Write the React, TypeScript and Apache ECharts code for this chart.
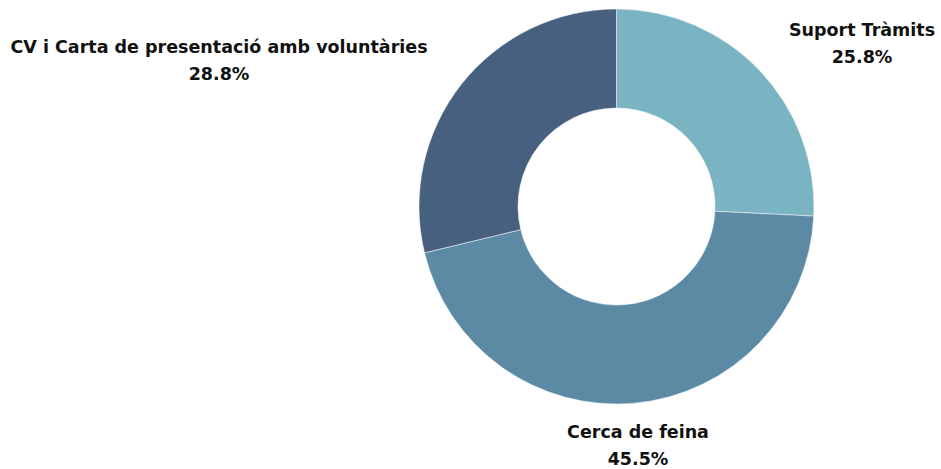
import React, { useEffect, useRef } from "react";
import * as echarts from "echarts";

const categories = ["Suport Tràmits", "Cerca de feina", "CV i Carta de presentació amb voluntàries"];
const values = [25.8, 45.5, 28.8];
const colors = ["#7ab3c2", "#5c8aa5", "#47607f"];

export default function App() {
  const ref = useRef<HTMLDivElement>(null);
  useEffect(() => {
    document.body.style.margin = "0";
    const chart = echarts.init(ref.current!, null, { renderer: "svg" });
    const labelPos = [
      { x: 862, y: 43.5 },
      { x: 638, y: 445 },
      { x: 219, y: 60.5 },
    ];
    chart.setOption({
      animation: false,
      series: [
        {
          type: "pie",
          center: [616.5, 206.5],
          radius: [98.5, 197.5],
          startAngle: 90,
          clockwise: true,
          data: categories.map((c, i) => ({ name: c, value: values[i], itemStyle: { color: colors[i] } })),
          itemStyle: { borderColor: "#ffffff", borderWidth: 0.5 },
          label: {
            show: true,
            position: "outside",
            formatter: (p: any) => `${p.name}\n${p.value.toFixed(1)}%`,
            fontFamily: "DejaVu Sans",
            fontWeight: "bold",
            fontSize: 17.5,
            lineHeight: 27,
            color: "#111111",
            align: "center",
            overflow: "none",
            bleedMargin: 0,
          },
          labelLine: { show: false },
          labelLayout: (p: any) => ({
            x: labelPos[p.dataIndex].x,
            y: labelPos[p.dataIndex].y,
            align: "center",
            verticalAlign: "middle",
          }),
          emphasis: { disabled: true },
        },
      ],
    });
    return () => chart.dispose();
  }, []);
  return <div ref={ref} style={{ width: 941, height: 469 }} />;
}
